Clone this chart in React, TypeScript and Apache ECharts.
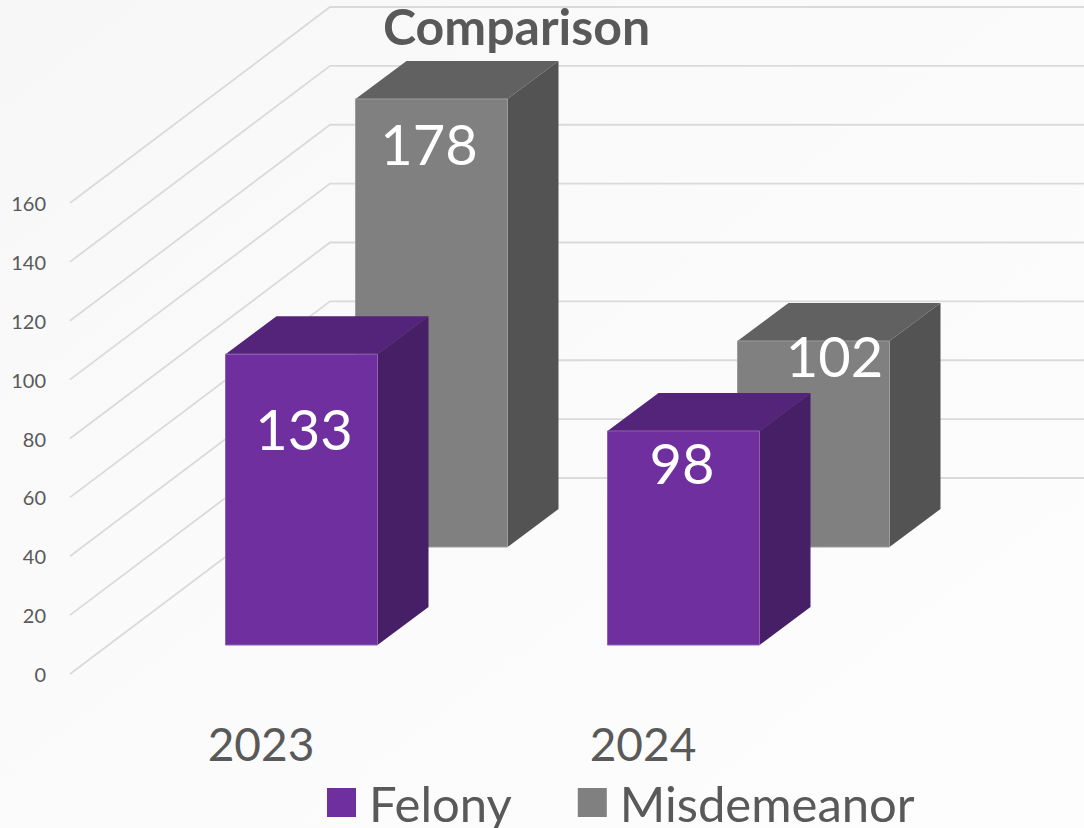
import React, { useEffect, useRef } from "react";
import * as echarts from "echarts";

const categories = ["2023", "2024"];
const yTicks = [0, 20, 40, 60, 80, 100, 120, 140, 160];
// Values printed on the bars
const felonyValues = [133, 98];
const misdemeanorValues = [178, 102];
// Heights the bars actually reach on the printed axis
// (the reference's bars are not to the scale of their labels)
const felonyHeights = [98.8, 72.7];
const misdemeanorHeights = [152.2, 70];

const TEXT = "#595959";
const FONT = "Lato, 'Open Sans', sans-serif";
const WALL = { dx: 260, dy: -196 };
const BAR = { width: 152, dx: 51, dy: -38 };

const felonyStyle = { name: "Felony", color: "#6F2F9E", top: "#54247A", side: "#471F66", edge: "#8E62B0", shiftX: 40.5, shiftY: -29, labelDx: [2.5, -1.5], labelDy: [74, 32], z: 3 };
const misdemeanorStyle = { name: "Misdemeanor", color: "#808080", top: "#616161", side: "#535353", edge: "#9C9C9C", shiftX: 170.5, shiftY: -127, labelDx: [-2.5, 21], labelDy: [45, 15], z: 2 };

function barSeries(s: typeof felonyStyle, heights: number[], values: number[]) {
  return {
    type: "custom",
    name: s.name,
    z: s.z,
    itemStyle: { color: s.color },
    clip: false,
    data: heights.map((h, i) => [i, h, values[i]]),
    encode: { x: 0, y: 1 },
    renderItem: (_p: any, api: any) => {
      const cat = api.value(0);
      const base = api.coord([cat, 0]);
      const topPt = api.coord([cat, api.value(1)]);
      const l = base[0] + s.shiftX - BAR.width / 2;
      const r = l + BAR.width;
      const b = base[1] + s.shiftY;
      const t = topPt[1] + s.shiftY;
      return {
        type: "group",
        children: [
          { type: "polygon", shape: { points: [[l, t], [l + BAR.dx, t + BAR.dy], [r + BAR.dx, t + BAR.dy], [r, t]] }, style: { fill: s.top } },
          { type: "polygon", shape: { points: [[r, t], [r + BAR.dx, t + BAR.dy], [r + BAR.dx, b + BAR.dy], [r, b]] }, style: { fill: s.side } },
          { type: "rect", shape: { x: l, y: t, width: BAR.width, height: b - t }, style: { fill: s.color, stroke: s.edge, lineWidth: 1 } },
          {
            type: "text",
            style: {
              text: String(api.value(2)),
              x: l + BAR.width / 2 + s.labelDx[cat],
              y: t + s.labelDy[cat],
              fill: "#ffffff",
              fontSize: 56,
              fontFamily: FONT,
              align: "center",
              verticalAlign: "middle",
            },
          },
        ],
      };
    },
  };
}

export default function App() {
  const ref = useRef<HTMLDivElement>(null);
  useEffect(() => {
    const chart = echarts.init(ref.current!, null, { renderer: "svg" });
    chart.setOption({
      animation: false,
      backgroundColor: {
        type: "linear", x: 0, y: 0, x2: 1, y2: 1,
        colorStops: [
          { offset: 0, color: "#F7F7F7" },
          { offset: 0.35, color: "#FAFAFA" },
          { offset: 1, color: "#FDFDFD" },
        ],
      },
      title: {
        text: "Comparison",
        left: 383,
        top: 0,
        padding: 0,
        textStyle: { color: TEXT, fontSize: 50, fontWeight: "bold", fontFamily: FONT, lineHeight: 52 },
      },
      legend: {
        data: [felonyStyle.name, misdemeanorStyle.name],
        left: 327,
        top: 778,
        padding: 0,
        icon: "rect",
        itemWidth: 29,
        itemHeight: 29,
        itemGap: 66,
        textStyle: { color: TEXT, fontSize: 49, fontFamily: FONT, lineHeight: 42, padding: [0, 0, 0, 8] },
      },
      grid: { left: 70, width: 764, top: 203, height: 471 },
      xAxis: {
        type: "category",
        data: categories,
        axisLine: { show: false },
        axisTick: { show: false },
        axisLabel: { color: TEXT, fontSize: 46, fontFamily: FONT, margin: 46 },
      },
      yAxis: {
        type: "value",
        min: 0,
        max: 160,
        interval: 20,
        axisLine: { show: false },
        axisTick: { show: false },
        splitLine: { show: false },
        axisLabel: { color: TEXT, fontSize: 20, fontFamily: FONT, margin: 24, padding: [2, 0, 0, 0] },
      },
      series: [
        barSeries(felonyStyle, felonyHeights, felonyValues),
        barSeries(misdemeanorStyle, misdemeanorHeights, misdemeanorValues),
        {
          type: "custom",
          name: "walls",
          z: 1,
          clip: false,
          silent: true,
          data: yTicks.map((v) => [0, v]),
          encode: { x: 0, y: 1 },
          renderItem: (params: any, api: any) => {
            const y = api.coord([0, api.value(1)])[1];
            const x = params.coordSys.x;
            return {
              type: "polyline",
              shape: { points: [[x, y], [x + WALL.dx, y + WALL.dy], [1084, y + WALL.dy]] },
              style: { fill: "none", stroke: "#DADADA", lineWidth: 1.8 },
            };
          },
        },
      ],
    });
    return () => chart.dispose();
  }, []);
  return <div ref={ref} style={{ position: "fixed", left: 0, top: 0, width: 1084, height: 828 }} />;
}
